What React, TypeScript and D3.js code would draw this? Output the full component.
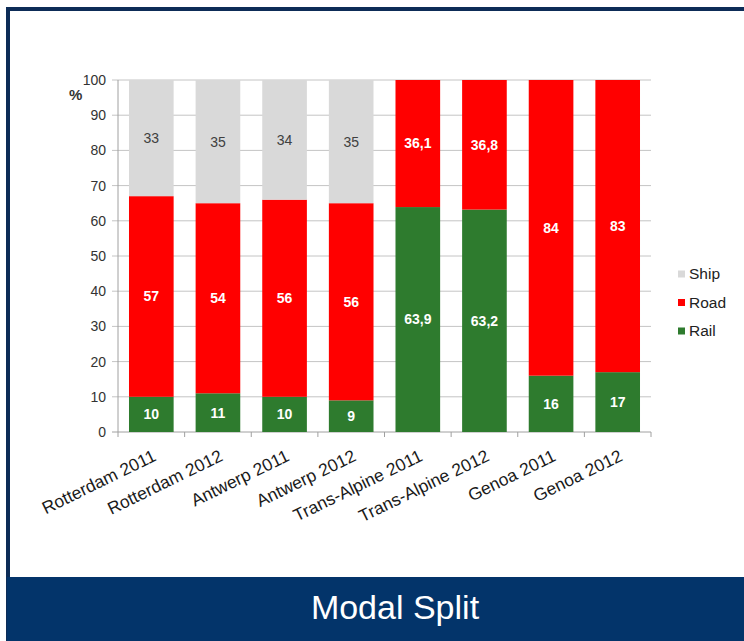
import React from "react";
import * as d3 from "d3";

const categories = [
  "Rotterdam 2011",
  "Rotterdam 2012",
  "Antwerp 2011",
  "Antwerp 2012",
  "Trans-Alpine 2011",
  "Trans-Alpine 2012",
  "Genoa 2011",
  "Genoa 2012",
];
const rail = [10, 11, 10, 9, 63.9, 63.2, 16, 17];
const road = [57, 54, 56, 56, 36.1, 36.8, 84, 83];
const ship = [33, 35, 34, 35, 0, 0, 0, 0];
const railLabels = ["10", "11", "10", "9", "63,9", "63,2", "16", "17"];
const roadLabels = ["57", "54", "56", "56", "36,1", "36,8", "84", "83"];
const shipLabels = ["33", "35", "34", "35", "", "", "", ""];
const yTicks = [0, 10, 20, 30, 40, 50, 60, 70, 80, 90, 100];
const seriesNames = ["Ship", "Road", "Rail"];

const COLORS: Record<string, string> = {
  Rail: "#2e7b2e",
  Road: "#ff0000",
  Ship: "#d9d9d9",
};

export default function App() {
  const W = 744;
  const H = 641;
  const left = 118;
  const right = 651;
  const top = 80;
  const bottom = 432;
  const font = "'Liberation Sans', Arial, sans-serif";

  const x = d3.scaleBand<string>().domain(categories).range([left, right]).paddingInner(0.33).paddingOuter(0.165);
  const y = d3.scaleLinear().domain([0, 100]).range([bottom, top]);

  const series = [
    { name: "Rail", values: rail, labels: railLabels, color: "#ffffff", bold: true },
    { name: "Road", values: road, labels: roadLabels, color: "#ffffff", bold: true },
    { name: "Ship", values: ship, labels: shipLabels, color: "#404040", bold: false },
  ];

  const step = (right - left) / categories.length;

  const segs: any[] = [];
  categories.forEach((c, i) => {
    let base = 0;
    series.forEach((s) => {
      const v = s.values[i];
      if (v > 0) {
        segs.push({ c, y0: base, y1: base + v, s, label: s.labels[i] });
      }
      base += v;
    });
  });

  return (
    <svg width={W} height={H} style={{ position: "absolute", left: 0, top: 0 }} fontFamily={font}>
      <rect x={0} y={0} width={W} height={H} fill="#ffffff" />
      {/* frame */}
      <rect x={7} y={7} width={W - 7} height={4} fill="#0d2c57" />
      <rect x={6} y={7} width={4} height={H - 7} fill="#0d2c57" />
      <rect x={7} y={577} width={W - 7} height={H - 577} fill="#03346a" />
      <text x={395} y={619} textAnchor="middle" fill="#ffffff" fontSize={34} fontFamily={font}>
        Modal Split
      </text>

      {/* gridlines */}
      {yTicks.map((t) => (
        <line key={"g" + t} x1={left - 6} x2={right} y1={y(t)} y2={y(t)} stroke={t === 0 ? "#a0a0a0" : "#c4c4c4"} strokeWidth={1} />
      ))}
      {/* y axis */}
      <line x1={left} x2={left} y1={top} y2={bottom} stroke="#a0a0a0" strokeWidth={1} />
      {yTicks.map((t) => (
        <text key={"yt" + t} x={106} y={y(t)} dy="0.35em" textAnchor="end" fontSize={14} fill="#333">
          {t}
        </text>
      ))}
      <text x={69} y={100} fontSize={15} fontWeight="bold" fill="#333">%</text>
      {/* x ticks */}
      {d3.range(categories.length + 1).map((i) => (
        <line key={"xt" + i} x1={left + i * step} x2={left + i * step} y1={bottom} y2={bottom + 5} stroke="#a0a0a0" />
      ))}

      {/* bars */}
      {segs.map((d, k) => (
        <rect
          key={"b" + k}
          x={x(d.c)}
          y={y(d.y1)}
          width={x.bandwidth()}
          height={y(d.y0) - y(d.y1)}
          fill={COLORS[d.s.name]}
        />
      ))}
      {segs.map((d, k) => (
        <text
          key={"l" + k}
          x={(x(d.c) as number) + x.bandwidth() / 2}
          y={y((d.y0 + d.y1) / 2)}
          dy="0.35em"
          textAnchor="middle"
          fontSize={14}
          fontWeight={d.s.bold ? "bold" : "normal"}
          fill={d.s.color}
        >
          {d.label}
        </text>
      ))}

      {/* x labels */}
      {categories.map((c) => {
        const cx = (x(c) as number) + x.bandwidth() / 2 + 6;
        const cy = bottom + 28;
        return (
          <text
            key={"xl" + c}
            transform={`translate(${cx},${cy}) rotate(-26)`}
            textAnchor="end"
            fontSize={17.5}
            fill="#1a1a1a"
          >
            {c}
          </text>
        );
      })}

      {/* legend */}
      {seriesNames.map((n, i) => (
        <g key={"lg" + n} transform={`translate(678,${274 + i * 28.5})`}>
          <rect x={0} y={-3.5} width={7} height={7} fill={COLORS[n]} />
          <text x={11} y={0} dy="0.35em" fontSize={15.5} fill="#222">
            {n}
          </text>
        </g>
      ))}
    </svg>
  );
}
